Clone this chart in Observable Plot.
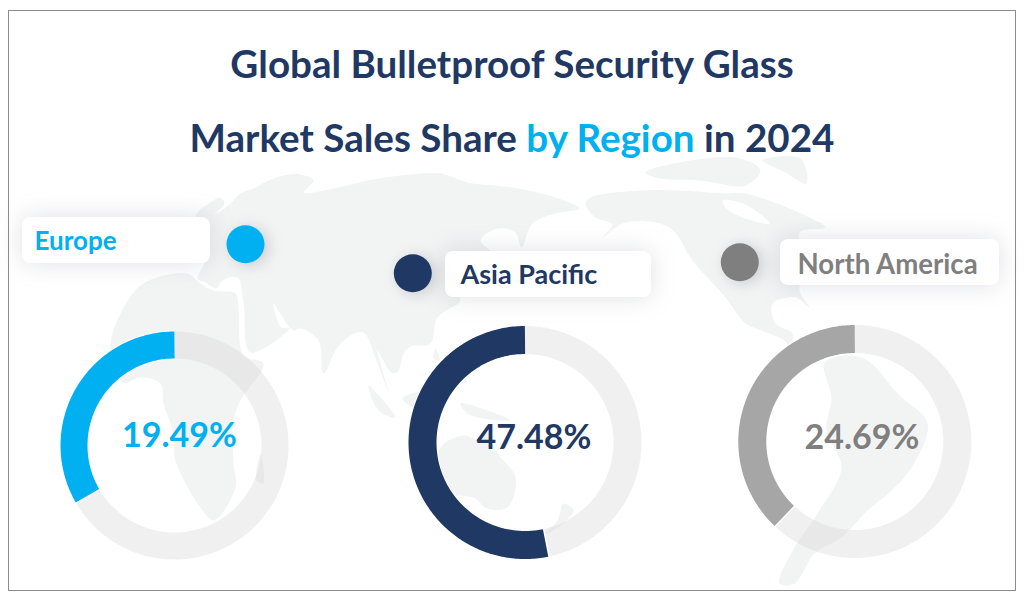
<!DOCTYPE html>
<html><head><meta charset="utf-8">
<script src="https://cdn.jsdelivr.net/npm/d3@7"></script>
<script src="https://cdn.jsdelivr.net/npm/@observablehq/plot@0.6"></script>
<style>
html,body{margin:0;padding:0;background:#fff;width:1024px;height:604px;overflow:hidden}
#wrap{position:relative;width:1024px;height:604px}
h1{position:absolute;left:0;width:1024px;margin:0;text-align:center;font:700 38.6px Lato,sans-serif;color:#1f3864;white-space:nowrap;line-height:44px}
#t1{top:41px}#t2{top:115px}
h1 span{color:#00b0f0}
</style></head><body>
<div id="wrap">
<h1 id="t1">Global Bulletproof Security Glass</h1>
<h1 id="t2">Market Sales Share <span>by Region</span> in 2024</h1>
<div id="chart"></div>
</div>
<script>
const regions = ["Europe","Asia Pacific","North America"];
const shareLabels = ["19.49%","47.48%","24.69%"];
const sweepDegrees = [120,191.6,136.5];
const ringColors = ["#00b0f0","#1f3864","#a6a6a6"];
const textColors = ["#00b0f0","#1f3864","#7f7f7f"];
const dotColors = ["#00b0f0","#1f3864","#7f7f7f"];
const ringCenterX = [174,524.5,854.3];
const ringCenterY = [445,442,441];
const ringOuter = [114,116.5,116.5];
const ringInner = [87,88.5,88.5];
const dotX = [245,412.3,739.3];
const dotY = [243.7,272.7,261.7];
const boxX1 = [22,445,780];
const boxX2 = [210,651,999];
const boxY1 = [217,251,239];
const boxY2 = [263,297,285];
const labelX = [34,460,797];
const labelY = [241,275,265];
const labelSize = [26,27,27.6];
const shareX = [179,533.5,861.5];
const shareY = [436,438,438];

const eurasia = [[197,278],[204,262],[200,240],[196,214],[207,204],[220,197],[224,203],[214,214],[228,205],[240,193],[253,188],[268,180],[283,175],[300,174],[313,180],[303,192],[333,188],[367,180],[400,175],[440,173],[467,182],[512,187],[555,197],[579,208],[555,213],[532,223],[521,247],[515,232],[497,228],[480,240],[490,252],[470,268],[455,290],[460,300],[437,317],[430,343],[410,346],[403,353],[398,370],[392,373],[377,350],[380,363],[388,392],[376,360],[363,332],[350,335],[337,347],[323,373],[318,340],[300,328],[293,330],[273,303],[281,327],[290,327],[250,352],[243,302],[237,277],[222,280],[216,288],[205,282]];
const africa = [[120,313],[143,283],[187,273],[200,283],[213,290],[235,293],[238,307],[243,355],[263,363],[240,400],[233,420],[233,463],[235,487],[213,520],[200,507],[175,460],[173,433],[163,403],[160,383],[140,377],[122,382],[110,347]];
const madagascar = [[260,453],[263,483],[256,480]];
const australia = [[440,447],[463,435],[480,440],[484,431],[497,453],[515,477],[507,507],[487,508],[473,497],[447,493],[438,473]];
const newGuinea = [[460,403],[487,410],[510,420],[483,418],[467,413]];
const sumatra = [[368,385],[395,417],[378,410]];
const borneo = [[402,398],[420,392],[415,407]];
const newZealand = [[563,503],[573,510],[553,530],[545,533],[557,520]];
const philippines = [[435,348],[439,360],[433,358]];
const northAmerica = [[590,197],[639,190],[679,190],[725,193],[745,193],[809,217],[825,227],[799,232],[805,262],[799,290],[809,307],[795,297],[772,303],[775,323],[792,333],[789,347],[784,340],[761,330],[745,323],[725,297],[692,260],[669,227],[625,222],[602,237],[612,224],[595,217],[585,203]];
const hudsonBay = [[722,200],[745,204],[769,223],[742,217],[725,207]];
const arcticIslands = [[645,172],[690,160],[740,158],[760,170],[745,185],[700,180],[660,178]];
const greenland = [[762,160],[800,158],[806,183],[785,172]];
const southAmerica = [[824,363],[844,355],[867,360],[897,393],[927,423],[911,467],[891,490],[867,510],[841,537],[814,553],[794,583],[779,583],[794,547],[817,513],[841,467],[826,430],[831,397]];

const land = {eurasia,africa,madagascar,australia,newGuinea,sumatra,borneo,newZealand,philippines,northAmerica,arcticIslands,greenland,southAmerica};
const landRows = Object.entries(land).flatMap(([part,pts]) => pts.map(([x,y]) => ({part,x,y})));
const bayRows = hudsonBay.map(([x,y]) => ({x,y}));

const rows = regions.map((region,i) => ({region,i,label:shareLabels[i],color:ringColors[i],text:textColors[i],dot:dotColors[i],
  cx:ringCenterX[i],cy:ringCenterY[i],mid:(ringOuter[i]+ringInner[i])/2,w:ringOuter[i]-ringInner[i],
  dx:dotX[i],dy:dotY[i],x1:boxX1[i],x2:boxX2[i],y1:boxY1[i],y2:boxY2[i],lx:labelX[i],ly:labelY[i],ls:labelSize[i],sx:shareX[i],sy:shareY[i]}));

function arcPoints(r, sweep, dir){
  const n = Math.ceil(Math.abs(sweep));
  return d3.range(n+1).map(k => {
    const a = dir*(sweep*k/n)*Math.PI/180;
    return {x:r.cx+r.mid*Math.sin(a), y:r.cy-r.mid*Math.cos(a)};
  });
}
const ringMarks = rows.flatMap((r,i) => [
  Plot.line(arcPoints(r,360,1),{x:"x",y:"y",stroke:"#d8d8d8",strokeOpacity:0.38,strokeWidth:r.w,strokeLinecap:"butt",curve:"linear"}),
  Plot.line(arcPoints(r,sweepDegrees[i]+0.8,-1),{x:"x",y:"y",stroke:"#ffffff",strokeWidth:r.w+2,strokeLinecap:"butt",curve:"linear"}),
  Plot.line(arcPoints(r,sweepDegrees[i],-1),{x:"x",y:"y",stroke:r.color,strokeWidth:r.w,strokeLinecap:"butt",curve:"linear"})
]);
const labelMarks = rows.map(r => Plot.text([r],{x:"lx",y:"ly",text:"region",fill:"text",textAnchor:"start",lineAnchor:"middle",fontFamily:"Lato",fontWeight:700,fontSize:r.ls}));

const chart = Plot.plot({
  width:1024,height:604,margin:0,
  x:{domain:[0,1024],range:[0,1024],axis:null},
  y:{domain:[0,604],range:[0,604],axis:null},
  marks:[
    Plot.line(landRows,{x:"x",y:"y",z:"part",fill:"#f2f3f3",stroke:"none",curve:"catmull-rom-closed"}),
    Plot.line(bayRows,{x:"x",y:"y",fill:"#ffffff",stroke:"none",curve:"catmull-rom-closed"}),
    Plot.rect([{x1:8.5,x2:1015.5,y1:10.5,y2:590.5}],{x1:"x1",x2:"x2",y1:"y1",y2:"y2",fill:"none",stroke:"#8c8c8c",strokeWidth:1}),
    ...ringMarks,
    Plot.rect(rows,{x1:"x1",x2:"x2",y1:"y1",y2:"y2",fill:"#ffffff",rx:8,imageFilter:"drop-shadow(0 0 12px rgba(110,115,130,0.22))"}),
    Plot.dot(rows,{x:"dx",y:"dy",r:19,fill:"dot",stroke:"none",imageFilter:"drop-shadow(4px 2px 7px rgba(110,115,130,0.3))"}),
    ...labelMarks,
    Plot.text(rows,{x:"sx",y:"sy",text:"label",fill:"text",textAnchor:"middle",lineAnchor:"middle",fontFamily:"Lato",fontWeight:700,fontSize:34})
  ]
});
document.getElementById("chart").appendChild(chart);
</script>
</body></html>
